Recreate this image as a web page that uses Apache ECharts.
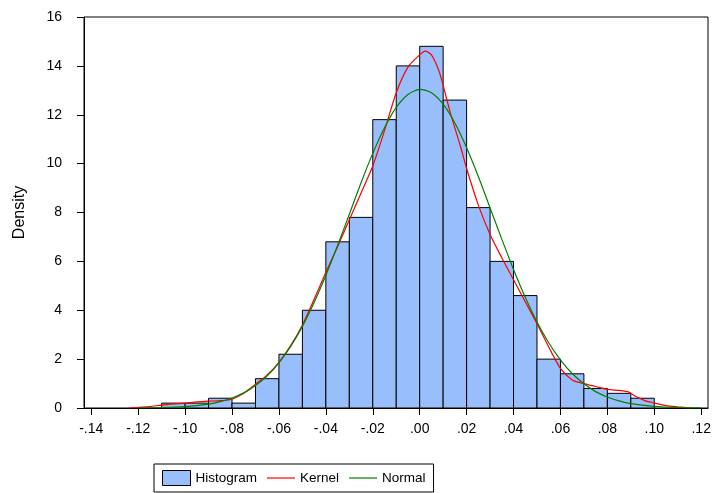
<!DOCTYPE html>
<html>
<head>
<meta charset="utf-8">
<script src="https://cdn.jsdelivr.net/npm/echarts@6/dist/echarts.min.js"></script>
<style>
html,body{margin:0;padding:0;background:#fff;}
#chart{width:714px;height:493px;}
</style>
</head>
<body>
<div id="chart"></div>
<script>
// Histogram bins (left edges, width 0.01) and densities
const binStarts = [-0.11,-0.10,-0.09,-0.08,-0.07,-0.06,-0.05,-0.04,-0.03,-0.02,-0.01,0.00,0.01,0.02,0.03,0.04,0.05,0.06,0.07,0.08,0.09];
const densities = [0.2,0.2,0.4,0.2,1.2,2.2,4.0,6.8,7.8,11.8,14.0,14.8,12.6,8.2,6.0,4.6,2.0,1.4,0.8,0.6,0.4];
const binWidth = 0.01;

// Kernel density curve
const kernelX = [-0.124,-0.115,-0.11,-0.10,-0.095,-0.09,-0.085,-0.08,-0.075,-0.07,-0.065,-0.06,-0.055,-0.05,-0.045,-0.04,-0.035,-0.03,-0.025,-0.02,-0.015,-0.01,-0.005,0.0,0.0024,0.005,0.008,0.01,0.013,0.0174,0.02,0.025,0.03,0.035,0.04,0.045,0.05,0.055,0.06,0.065,0.07,0.075,0.08,0.085,0.089,0.092,0.096,0.10,0.105,0.11,0.116];
const kernelY = [0,0.06,0.12,0.2,0.25,0.28,0.3,0.36,0.6,0.97,1.35,1.87,2.55,3.4,4.45,5.55,6.6,7.7,8.8,9.9,11.35,12.9,13.95,14.45,14.6,14.45,13.85,13.2,12.1,10.7,9.8,8.3,7.1,6.15,5.25,4.35,3.45,2.5,1.62,1.15,1.0,0.88,0.76,0.72,0.66,0.48,0.3,0.2,0.1,0.05,0];

// Normal density curve
const normalX = [-0.12,-0.11,-0.10,-0.09,-0.085,-0.08,-0.075,-0.07,-0.065,-0.06,-0.055,-0.05,-0.045,-0.04,-0.035,-0.03,-0.025,-0.02,-0.015,-0.01,-0.005,0.0,0.005,0.01,0.015,0.02,0.025,0.03,0.035,0.04,0.045,0.05,0.055,0.06,0.065,0.07,0.075,0.08,0.085,0.09,0.10,0.11,0.12];
const normalY = [0.005,0.02,0.06,0.16,0.26,0.41,0.62,0.92,1.32,1.85,2.52,3.34,4.32,5.43,6.65,7.93,9.22,10.42,11.47,12.30,12.83,13.04,12.90,12.43,11.66,10.65,9.47,8.19,6.91,5.67,4.53,3.52,2.67,1.97,1.41,0.99,0.67,0.45,0.29,0.18,0.07,0.02,0.005];

// Axis ticks
const xTicks = [-0.14,-0.12,-0.10,-0.08,-0.06,-0.04,-0.02,0.00,0.02,0.04,0.06,0.08,0.10,0.12];
const yTicks = [0,2,4,6,8,10,12,14,16];

const histData = binStarts.map((s, i) => [s, s + binWidth, densities[i]]);
const kernelData = kernelX.map((x, i) => [x, kernelY[i]]);
const normalData = normalX.map((x, i) => [x, normalY[i]]);

function fmtX(v) {
  const s = Math.abs(v).toFixed(2).replace(/^0/, '');
  return v < -1e-9 ? '-' + s : s;
}

const FONT = 'Liberation Sans, Arial, sans-serif';
const LINE_ICON = 'path://M0,0 L28,0 L28,1.2 L0,1.2 Z';
const chart = echarts.init(document.getElementById('chart'), null, {renderer: 'canvas'});
chart.setOption({
  animation: false,
  backgroundColor: '#fff',
  grid: {left: 84, right: 6, top: 17, bottom: 85, show: true, borderColor: '#000', borderWidth: 1, containLabel: false},
  xAxis: {
    type: 'value',
    min: -0.1431, max: 0.1229,
    axisLine: {show: true, onZero: false, lineStyle: {color: '#000', width: 1}},
    axisTick: {show: true, customValues: xTicks, length: 7, lineStyle: {color: '#000'}},
    axisLabel: {show: true, customValues: xTicks, formatter: fmtX, color: '#000', fontSize: 14, fontFamily: FONT, margin: 14},
    splitLine: {show: false}
  },
  yAxis: {
    type: 'value',
    min: 0, max: 16, interval: 2,
    name: 'Density', nameLocation: 'middle', nameGap: 56, nameRotate: 90,
    nameTextStyle: {color: '#000', fontSize: 16, fontFamily: FONT},
    axisLine: {show: true, onZero: false, lineStyle: {color: '#000', width: 1}},
    axisTick: {show: true, length: 7, lineStyle: {color: '#000'}},
    axisLabel: {color: '#000', fontSize: 14, fontFamily: FONT, margin: 22},
    splitLine: {show: false}
  },
  legend: {
    left: 154, top: 464,
    padding: [6, 8, 6, 8],
    borderColor: '#000', borderWidth: 1, backgroundColor: '#fff',
    itemWidth: 28, itemHeight: 15, itemGap: 10,
    textStyle: {color: '#000', fontSize: 13.5, fontFamily: FONT},
    data: [
      {name: 'Histogram', icon: 'rect', itemStyle: {color: '#98bffb', borderColor: '#000', borderWidth: 1}},
      {name: 'Kernel', icon: LINE_ICON, itemStyle: {color: '#ff0000', borderWidth: 0}},
      {name: 'Normal', icon: LINE_ICON, itemStyle: {color: '#008000', borderWidth: 0}}
    ]
  },
  series: [
    {
      name: 'Histogram',
      type: 'custom',
      data: histData,
      itemStyle: {color: '#98bffb', borderColor: '#000', borderWidth: 1},
      renderItem: function (params, api) {
        const p0 = api.coord([api.value(0), api.value(2)]);
        const p1 = api.coord([api.value(1), 0]);
        return {
          type: 'rect',
          shape: {x: p0[0], y: p0[1], width: p1[0] - p0[0], height: p1[1] - p0[1]},
          style: {fill: '#98bffb', stroke: '#000', lineWidth: 1}
        };
      },
      encode: {x: [0, 1], y: 2}
    },
    {
      name: 'Kernel', type: 'line', data: kernelData, symbol: 'none', smooth: 0.25,
      lineStyle: {color: '#ff0000', width: 1.2}, itemStyle: {color: '#ff0000'}, z: 3
    },
    {
      name: 'Normal', type: 'line', data: normalData, symbol: 'none', smooth: 0.25,
      lineStyle: {color: '#008000', width: 1.2}, itemStyle: {color: '#008000'}, z: 4
    }
  ]
});
</script>
</body>
</html>
